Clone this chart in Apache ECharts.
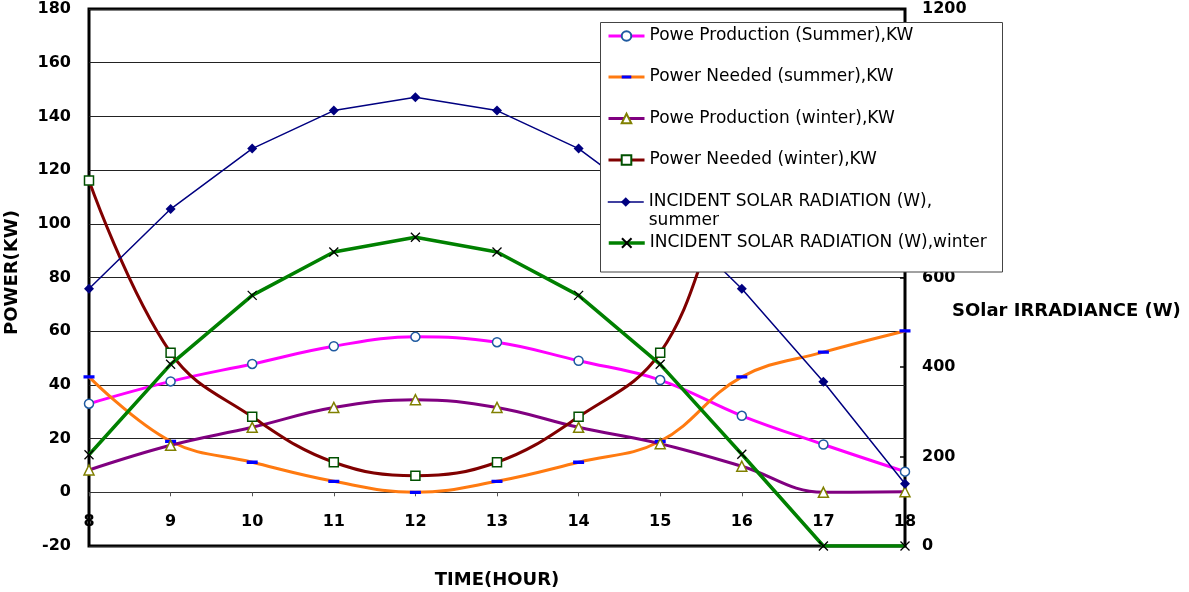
<!DOCTYPE html>
<html>
<head>
<meta charset="utf-8">
<script src="https://cdn.jsdelivr.net/npm/echarts@6/dist/echarts.min.js"></script>
<style>
  html, body { margin: 0; padding: 0; background: #fff; }
  #chart { width: 1189px; height: 592px; }
</style>
</head>
<body>
<div id="chart"></div>
<script>
// Hour of day
const hours = ['8', '9', '10', '11', '12', '13', '14', '15', '16', '17', '18'];

// Power (kW), left axis
const prodSummer   = [33.0, 41.3, 47.8, 54.4, 57.9, 55.9, 49.0, 41.8, 28.5, 17.8, 7.7];
const neededSummer = [43.0, 19.0, 11.2, 4.1, 0.0, 4.1, 11.2, 19.0, 43.0, 52.2, 60.1];
const prodWinter   = [8.3, 17.5, 24.2, 31.6, 34.5, 31.6, 24.2, 18.1, 9.7, 0.0, 0.2];
const neededWinter = [116.1, 52.0, 28.1, 11.2, 6.2, 11.2, 28.1, 52.0, 116.1, 130.0, 142.0];

// Incident solar radiation (W), right axis
const radSummer = [575, 753, 888, 973, 1003, 973, 888, 753, 575, 367, 139];
const radWinter = [204, 406, 560, 657, 690, 657, 560, 406, 205, 0, 0];

// Series names
const seriesNames = [
  'Powe Production (Summer),KW',
  'Power Needed (summer),KW',
  'Powe Production (winter),KW',
  'Power Needed (winter),KW',
  'INCIDENT SOLAR RADIATION (W),\nsummer',
  'INCIDENT SOLAR RADIATION (W),winter'
];

const FONT = 'DejaVu Sans';
// Horizontal dash centred in a square box (corner points keep the box square)
const dashSymbol = 'path://M0,0ZM0,3.5L10,3.5L10,6.5L0,6.5ZM10,10Z';
const crossSymbol = 'path://M0,0L10,10M10,0L0,10';

const boldText = { color: '#000', fontFamily: FONT, fontWeight: 'bold', fontSize: 16 };
const nameText = { color: '#000', fontFamily: FONT, fontWeight: 'bold', fontSize: 18 };

// One legend block per entry so each row sits at its own offset
const legendTops = [26.5, 67.5, 109, 150.5, 173.5, 233.5];
const legends = seriesNames.map((n, i) => ({
  z: 60,
  data: [n],
  left: 607,
  top: legendTops[i],
  orient: 'vertical',
  padding: 0,
  itemGap: 0,
  itemWidth: 36,
  itemHeight: 12,
  selectedMode: false,
  lineStyle: { width: 'inherit' },
  formatter: i === 4 ? (name) => '\n' + name : '{name}',
  textStyle: { color: '#000', fontFamily: FONT, fontSize: 17, lineHeight: 19 }
}));

const option = {
  animation: false,
  backgroundColor: '#fff',
  grid: {
    left: 89, right: 284, top: 9, bottom: 46,
    show: true, borderColor: '#000', borderWidth: 3,
    outerBoundsMode: 'none'
  },
  legend: legends,
  graphic: {
    z: 50,
    elements: [{
      type: 'rect',
      z: 50,
      shape: { x: 600.5, y: 22.5, width: 402, height: 249.5 },
      style: { fill: '#fff', stroke: '#444', lineWidth: 1 }
    }]
  },
  xAxis: {
    type: 'category',
    data: hours,
    boundaryGap: false,
    position: 'bottom',
    // axis sits on the zero line of the power scale
    offset: -53.7,
    axisLine: { show: true, onZero: false, lineStyle: { color: '#333', width: 1 } },
    axisTick: { show: true, inside: false, length: 4, lineStyle: { color: '#555' } },
    axisLabel: Object.assign({ interval: 0, margin: 22 }, boldText),
    splitLine: { show: false },
    name: 'TIME(HOUR)',
    nameLocation: 'middle',
    nameGap: 79,
    nameTextStyle: nameText
  },
  yAxis: [{
    type: 'value',
    position: 'left',
    min: -20, max: 180, interval: 20,
    axisLine: { show: false },
    axisTick: { show: false },
    axisLabel: Object.assign({ margin: 18 }, boldText),
    splitLine: { show: true, lineStyle: { color: '#222', width: 1 } },
    name: 'POWER(KW)',
    nameLocation: 'middle',
    nameRotate: 90,
    nameGap: 68,
    nameTextStyle: Object.assign({ padding: [0, 0, 0, 10] }, nameText)
  }, {
    type: 'value',
    position: 'right',
    min: 0, max: 1200, interval: 200,
    axisLine: { show: false },
    axisTick: { show: true, inside: true, length: 5, lineStyle: { color: '#000', width: 1.5 } },
    axisLabel: Object.assign({ margin: 17, formatter: (v) => String(v) }, boldText),
    splitLine: { show: false },
    name: 'SOlar IRRADIANCE (W)',
    nameLocation: 'middle',
    nameRotate: 0,
    nameGap: 47,
    nameMoveOverlap: false,
    nameTextStyle: Object.assign({ verticalAlign: 'top', lineHeight: 68 }, nameText)
  }],
  series: [{
    name: seriesNames[0], type: 'line', data: prodSummer, yAxisIndex: 0,
    smooth: 0.4, symbol: 'circle', symbolSize: 9,
    lineStyle: { color: '#ff00ff', width: 3 },
    itemStyle: { color: '#fff', borderColor: '#1f5aa0', borderWidth: 1.5 }
  }, {
    name: seriesNames[1], type: 'line', data: neededSummer, yAxisIndex: 0,
    smooth: 0.4, symbol: dashSymbol, symbolSize: 11,
    lineStyle: { color: '#ff7a10', width: 3 },
    itemStyle: { color: '#0000ff', borderWidth: 0 }
  }, {
    name: seriesNames[2], type: 'line', data: prodWinter, yAxisIndex: 0,
    smooth: 0.4, symbol: 'triangle', symbolSize: 10,
    lineStyle: { color: '#800080', width: 3 },
    itemStyle: { color: '#fff', borderColor: '#808000', borderWidth: 1.5 }
  }, {
    name: seriesNames[3], type: 'line', data: neededWinter, yAxisIndex: 0,
    smooth: 0.4, symbol: 'rect', symbolSize: 9,
    lineStyle: { color: '#800000', width: 3 },
    itemStyle: { color: '#fff', borderColor: '#005000', borderWidth: 1.5 }
  }, {
    name: seriesNames[4], type: 'line', data: radSummer, yAxisIndex: 1,
    symbol: 'diamond', symbolSize: 10,
    lineStyle: { color: '#000080', width: 1.5 },
    itemStyle: { color: '#000080' }
  }, {
    name: seriesNames[5], type: 'line', data: radWinter, yAxisIndex: 1,
    symbol: crossSymbol, symbolSize: 9,
    lineStyle: { color: '#008000', width: 3.5 },
    itemStyle: { color: 'rgba(0,0,0,0)', borderColor: '#000', borderWidth: 1.3 }
  }]
};

const chart = echarts.init(document.getElementById('chart'), null, { renderer: 'canvas' });
chart.setOption(option);
</script>
</body>
</html>
